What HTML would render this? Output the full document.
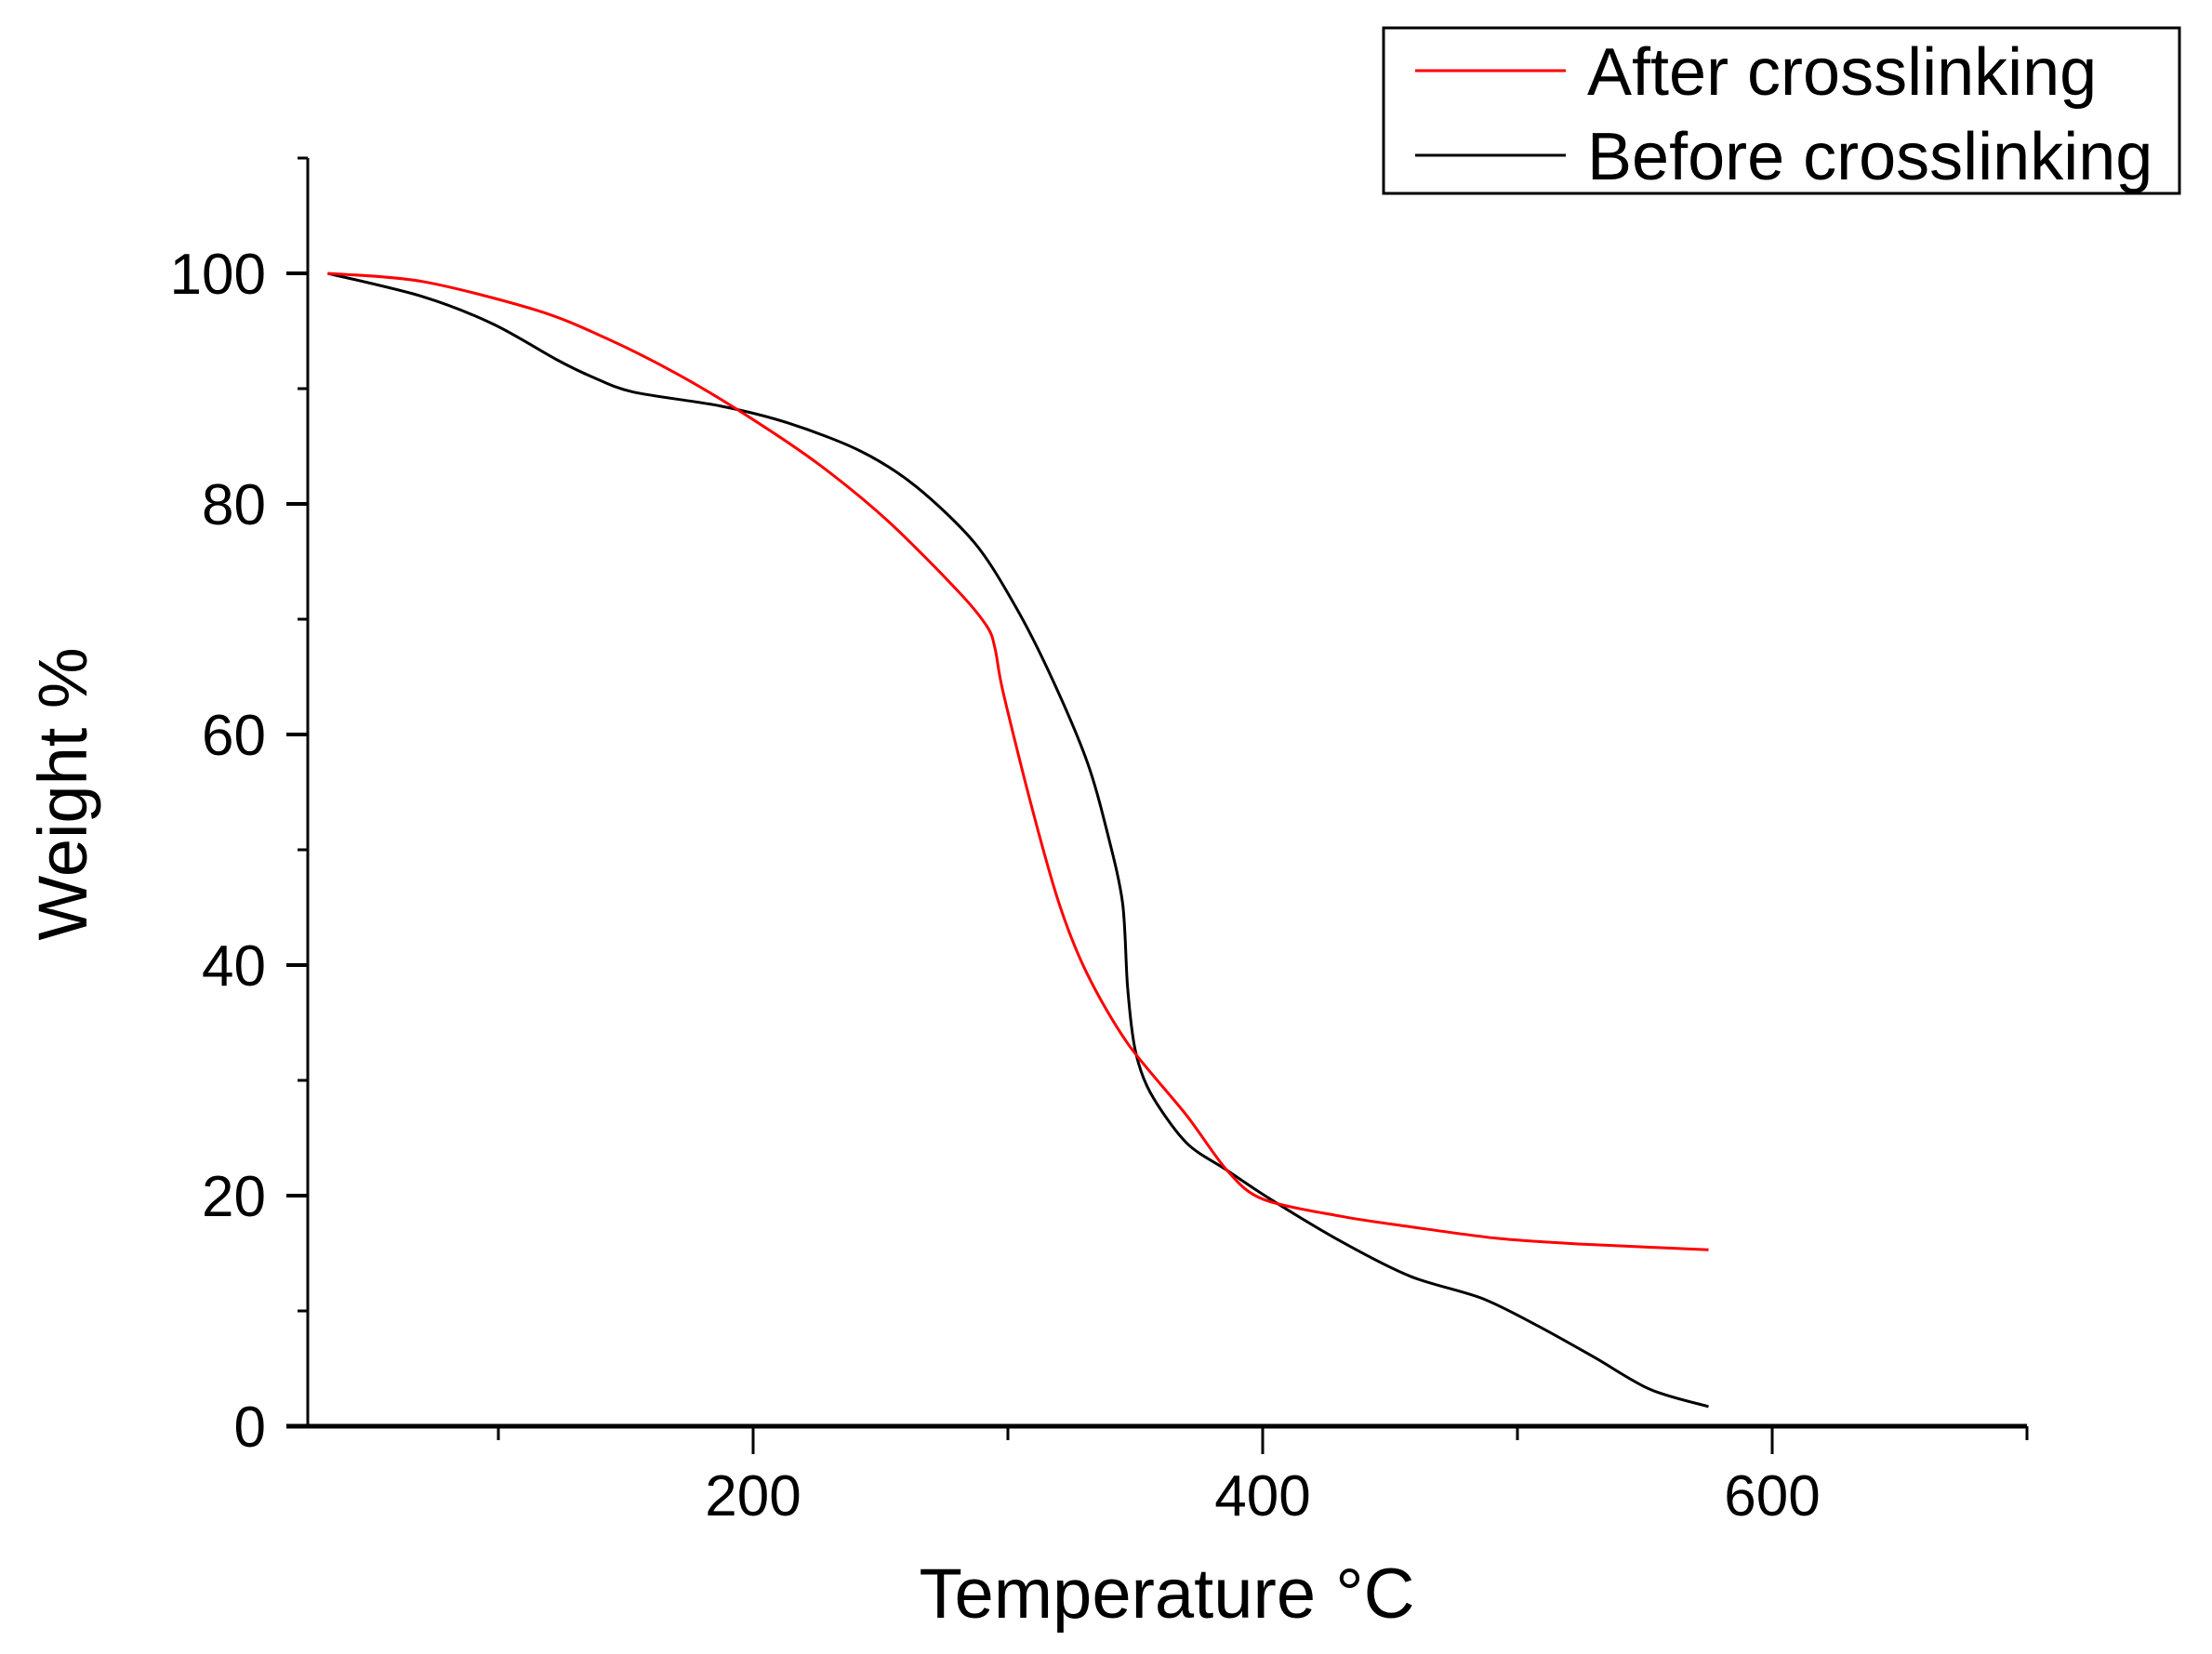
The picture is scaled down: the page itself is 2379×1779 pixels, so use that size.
<!DOCTYPE html>
<html><head><meta charset="utf-8"><style>
html,body{margin:0;padding:0;background:#fff;}
svg{display:block;font-family:"Liberation Sans",Arial,sans-serif;}
</style></head><body>
<svg id="chart" width="2379" height="1779" viewBox="0 0 2379 1779" xmlns="http://www.w3.org/2000/svg">
<rect width="2379" height="1779" fill="#fff"/>
<g id="axes"></g>
<g id="series"></g>
<text x="1255" y="1740" font-size="76" text-anchor="middle">Temperature °C</text>
<text transform="translate(93,854) rotate(-90)" font-size="74" text-anchor="middle">Weight %</text>
<g>
<rect x="1488" y="30" width="856" height="178" fill="#fff" stroke="#000" stroke-width="3"/>
<line x1="1522" y1="76" x2="1684" y2="76" stroke="#f00" stroke-width="3"/>
<text x="1707" y="102" font-size="72">After crosslinking</text>
<line x1="1522" y1="167" x2="1684" y2="167" stroke="#000" stroke-width="3"/>
<text x="1707" y="193" font-size="72">Before crosslinking</text>
</g>
</svg>
<script>
const xTicks=[200,400,600];
const xMinor=[100,300,500,700];
const yTicks=[0,20,40,60,80,100];
const yMinor=[10,30,50,70,90,110];
const afterT=[33,70,115,142,170,198,226,253,281,292,295,298,309,320,331,347,370,386,400,431,458,492,525,575];
const afterW=[100,99.3,96.8,94.4,91.3,87.6,83.4,78.5,72.3,69.3,67.4,63.8,54,45.4,39.3,33.2,27,22.2,19.7,18.2,17.3,16.3,15.8,15.3];
const beforeT=[33,70,98,123,137,153,187,214,242,264,287,303,317,331,339,345,347,350,356,370,386,403,431,458,486,508,530,552,575];
const beforeW=[100,98,95.6,92.5,91,89.7,88.5,87,84.6,81.5,76.6,71.1,65,57.7,51.5,45.4,38,32.6,28.9,24.6,22.2,19.7,16,13,11.1,8.7,6,3.2,1.7];
const NS="http://www.w3.org/2000/svg";
const X=t=>262+2.74*t;
const Y=v=>1534-12.4*v;
const axes=document.getElementById('axes');
const series=document.getElementById('series');
function mk(tag,attrs,parent){const e=document.createElementNS(NS,tag);for(const k in attrs)e.setAttribute(k,attrs[k]);parent.appendChild(e);return e;}
let e;
e=mk('line',{x1:308,y1:1534,x2:X(700),y2:1534,stroke:'#000','stroke-width':5},axes);


e=mk('line',{x1:331,y1:Y(110),x2:331,y2:1536,stroke:'#000','stroke-width':3},axes);


xTicks.forEach(t=>{
 let l=mk('line',{x1:X(t),y1:1534,x2:X(t),y2:1564,stroke:'#000','stroke-width':3},axes);
 
 
 let tx=mk('text',{x:X(t),y:1630,'font-size':62,'text-anchor':'middle'},axes);tx.textContent=t;
 
 
});
xMinor.forEach(t=>{
 let l=mk('line',{x1:X(t),y1:1534,x2:X(t),y2:1549,stroke:'#000','stroke-width':3},axes);
 
 
});
yTicks.forEach(v=>{
 let l=mk('line',{x1:308,y1:Y(v),x2:331,y2:Y(v),stroke:'#000','stroke-width':4},axes);
 
 
 let tx=mk('text',{x:286,y:Y(v)+22,'font-size':62,'text-anchor':'end'},axes);tx.textContent=v;
 
 
});
yMinor.forEach(v=>{
 let l=mk('line',{x1:320,y1:Y(v),x2:331,y2:Y(v),stroke:'#000','stroke-width':3},axes);
 
 
});
function path(ts,ws){
 const p=ts.map((t,i)=>[X(t),Y(ws[i])]);
 let d='M'+p[0][0].toFixed(1)+','+p[0][1].toFixed(1);
 for(let i=0;i<p.length-1;i++){
  const p0=p[Math.max(0,i-1)],p1=p[i],p2=p[i+1],p3=p[Math.min(p.length-1,i+2)];
  const k=0.15;
  const c1=[p1[0]+(p2[0]-p0[0])*k,p1[1]+(p2[1]-p0[1])*k];
  const c2=[p2[0]-(p3[0]-p1[0])*k,p2[1]-(p3[1]-p1[1])*k];
  d+=' C'+c1[0].toFixed(1)+','+c1[1].toFixed(1)+' '+c2[0].toFixed(1)+','+c2[1].toFixed(1)+' '+p2[0].toFixed(1)+','+p2[1].toFixed(1);
 }
 return d;
}
let p1=mk('path',{d:path(beforeT,beforeW),fill:'none',stroke:'#000','stroke-width':3,'stroke-linejoin':'round'},series);


let p2=mk('path',{d:path(afterT,afterW),fill:'none',stroke:'#f00','stroke-width':3,'stroke-linejoin':'round'},series);


</script>
</body></html>
